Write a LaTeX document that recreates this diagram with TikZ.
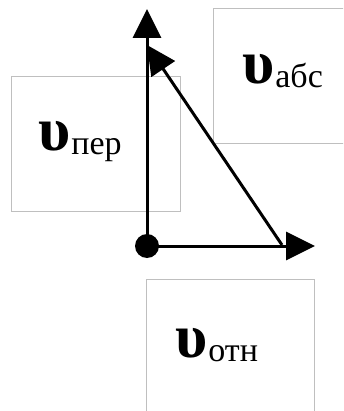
\documentclass[tikz,border=0pt]{standalone}
\usepackage{fontspec}
\setmainfont{Liberation Serif}
\usetikzlibrary{arrows.meta}
\tikzset{
  frame/.style={draw=black!25, line width=0.8pt},
  vec/.style={line width=3pt, -{Triangle[length=29pt,width=28pt]}},
  lbl/.style={anchor=base west, inner sep=0pt},
}
\newcommand{\vlabel}[1]{{\fontsize{62}{62}\selectfont\bfseries υ}\hspace{1pt}\raisebox{-4pt}{\fontsize{34}{34}\selectfont #1}}
\begin{document}
\begin{tikzpicture}[x=1pt,y=-1pt]
\useasboundingbox (0,0) rectangle (343,411);
\clip (0,0) rectangle (343,411);
% frames
\draw[frame] (213,8) rectangle (350,143);
\draw[frame] (11,76) rectangle (180,211);
\draw[frame] (146,279) rectangle (314,420);
% points
\coordinate (O) at (147,246);
\coordinate (Ytip) at (147,9);
\coordinate (Xtip) at (315,246);
\coordinate (Dstart) at (282,245);
\coordinate (Dtip) at (147,45);
% vectors
\draw[vec] (O) -- (Ytip);
\draw[vec] (O) -- (Xtip);
\draw[vec] (Dstart) -- (Dtip);
\fill (O) circle (12);
% labels
\node[lbl] (abs) at (242,84) {\vlabel{абс}};
\node[lbl] (per) at (38,151) {\vlabel{пер}};
\node[lbl] (otn) at (175,357) {\vlabel{отн}};
\end{tikzpicture}
\end{document}
